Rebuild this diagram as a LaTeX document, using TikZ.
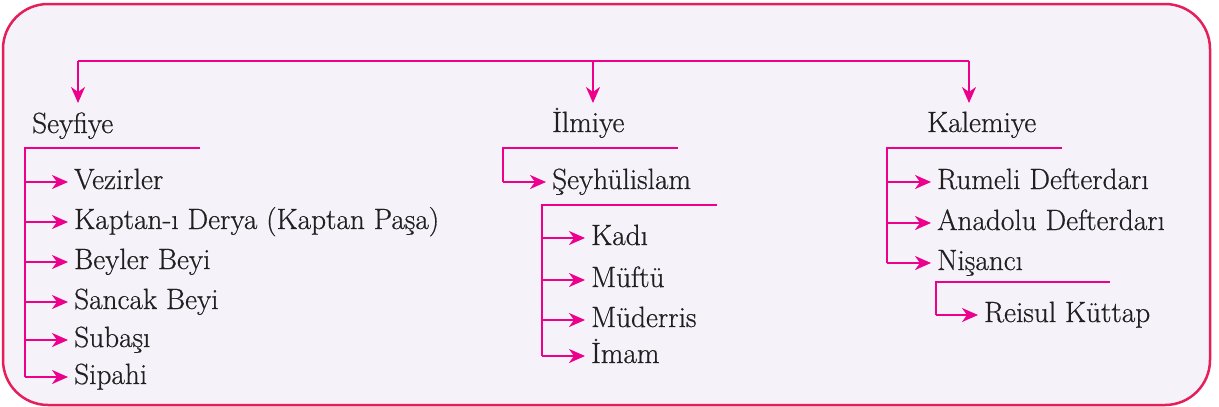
\documentclass[tikz,border=0pt]{standalone}
\usepackage{fontspec}
\newfontfamily\lblfont{Latin Modern Roman}[FakeBold=0.6]
\usetikzlibrary{arrows.meta}
\definecolor{framecol}{HTML}{E61E5A}
\definecolor{linecol}{HTML}{EC008C}
\definecolor{bgcol}{HTML}{F5F3F9}
\definecolor{txtcol}{HTML}{231F20}
\begin{document}
\begin{tikzpicture}[x=1pt,y=-1pt,
  lbl/.style={anchor=west,inner sep=0pt,text height=18pt,text depth=4pt,
    text=txtcol,font=\lblfont\fontsize{29.3}{34}\selectfont},
  ln/.style={draw=linecol,line width=2pt},
  arr/.style={ln,-{Stealth[length=16pt,width=14pt,inset=5pt]},shorten >=6pt}]
\useasboundingbox (0,0) rectangle (1219,407);
\draw[draw=framecol,fill=bgcol,line width=2.5pt,rounded corners=45pt] (3,4) rectangle (1210,405);
% headers
\node[lbl] (sey) at (32,126) {Seyfiye};
\node[lbl] (ilm) at (552,125) {İlmiye};
\node[lbl] (kal) at (927,125) {Kalemiye};
% top connector
\coordinate (t1) at (78,61);
\coordinate (t2) at (593,61);
\coordinate (t3) at (969,61);
\coordinate (e1) at (78,103);
\coordinate (e2) at (593,103);
\coordinate (e3) at (969,103);
\draw[ln] (t1) -- (t3);
\draw[arr,shorten >=0pt] (t1) -- (e1);
\draw[arr,shorten >=0pt] (t2) -- (e2);
\draw[arr,shorten >=0pt] (t3) -- (e3);
% Seyfiye
\node[lbl] (s1) at (74,182) {Vezirler};
\node[lbl] (s2) at (74,222) {Kaptan-ı Derya (Kaptan Paşa)};
\node[lbl] (s3) at (74,262) {Beyler Beyi};
\node[lbl] (s4) at (74,302) {Sancak Beyi};
\node[lbl] (s5) at (74,340) {Subaşı};
\node[lbl] (s6) at (74,377) {Sipahi};
\coordinate (sb) at (25,148);
\coordinate (sbe) at (200,148);
\draw[ln] (sbe) -- (sb) -- (sb |- s6.west);
\foreach \n in {s1,s2,s3,s4,s5,s6} \draw[arr] (sb |- \n.west) -- (\n.west);
% Ilmiye
\node[lbl] (i0) at (552,182) {Şeyhülislam};
\coordinate (ib) at (503,148);
\coordinate (ibe) at (678,148);
\draw[ln] (ibe) -- (ib) -- (ib |- i0.west);
\draw[arr] (ib |- i0.west) -- (i0.west);
\node[lbl] (i1) at (591,238) {Kadı};
\node[lbl] (i2) at (591,280) {Müftü};
\node[lbl] (i3) at (591,320) {Müderris};
\node[lbl] (i4) at (591,356) {İmam};
\coordinate (jb) at (542,205);
\coordinate (jbe) at (717,205);
\draw[ln] (jbe) -- (jb) -- (jb |- i4.west);
\foreach \n in {i1,i2,i3,i4} \draw[arr] (jb |- \n.west) -- (\n.west);
% Kalemiye
\node[lbl] (k1) at (937,182) {Rumeli Defterdarı};
\node[lbl] (k2) at (937,223) {Anadolu Defterdarı};
\node[lbl] (k3) at (937,263) {Nişancı};
\coordinate (kb) at (887,148);
\coordinate (kbe) at (1062,148);
\draw[ln] (kbe) -- (kb) -- (kb |- k3.west);
\foreach \n in {k1,k2,k3} \draw[arr] (kb |- \n.west) -- (\n.west);
\node[lbl] (k4) at (984,315) {Reisul Küttap};
\coordinate (lb) at (936,282);
\coordinate (lbe) at (1110,282);
\draw[ln] (lbe) -- (lb) -- (lb |- k4.west);
\draw[arr] (lb |- k4.west) -- (k4.west);
\end{tikzpicture}
\end{document}
